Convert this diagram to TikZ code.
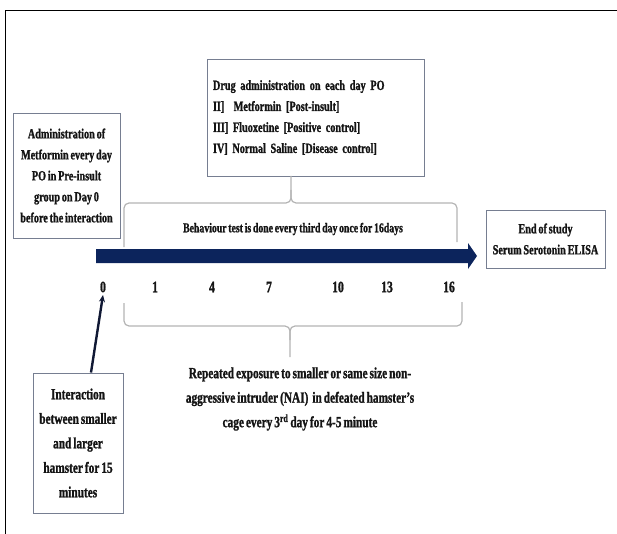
\documentclass[tikz,border=0pt]{standalone}
\usepackage{fontspec}
\newfontfamily\cf[FakeStretch=0.73, WordSpace=0.7, BoldFeatures={FakeBold=1.2}]{Liberation Serif}
\usetikzlibrary{arrows.meta}
\definecolor{navy}{RGB}{12,36,92}
\definecolor{pointer}{RGB}{16,24,52}
\definecolor{boxline}{RGB}{118,126,145}
\definecolor{bracecol}{RGB}{180,180,180}
\definecolor{txt}{RGB}{20,20,20}
\begin{document}
\begin{tikzpicture}[x=1pt,y=-1pt,
  box/.style={draw=boxline, line width=0.9pt, inner sep=0pt, text=txt},
  ftxt/.style={font=\cf\bfseries\fontsize{14}{21}\selectfont},
  fbig/.style={font=\cf\bfseries\fontsize{15.5}{24.5}\selectfont},
  fnum/.style={font=\cf\bfseries\fontsize{16}{18}\selectfont, text=txt, inner sep=0pt},
  bracestyle/.style={draw=bracecol, line width=1.2pt, rounded corners=5pt}]
\useasboundingbox (0,0) rectangle (617,534);
% outer frame (partly cropped)
\draw[line width=1.8pt] (5.5,540) -- (5.5,10.5) -- (625,10.5);

% boxes
\node[box, ftxt, align=center, minimum width=107, minimum height=125] (pre) at (66.5,175.5)
  {Administration of\\Metformin every day\\PO in Pre-insult\\group on Day 0\\before the interaction};
\node[box, ftxt, align=left, text width=205, inner xsep=6pt, minimum height=117] (drug) at (315.5,117.5)
  {Drug administration on each day PO\\II]\ \ Metformin [Post-insult]\\III] Fluoxetine [Positive control]\\IV] Normal Saline [Disease control]};
\node[box, ftxt, align=center, minimum width=119, minimum height=58] (end) at (545.5,239)
  {End of study\\Serum Serotonin ELISA};
\node[box, fbig, align=center, minimum width=90, minimum height=140] (inter) at (78,443)
  {Interaction\\between smaller\\and larger\\hamster for 15\\minutes};

% timeline arrow
\coordinate (tl0) at (96,256);
\coordinate (tl1) at (477,256);
\fill[navy] (96,249) -- (468,249) -- (468,243) -- (tl1) -- (468,269) -- (468,263) -- (96,263) -- cycle;

% day numbers
\node[fnum] (n0) at (103,287) {0};
\node[fnum] (n1) at (155,287) {1};
\node[fnum] (n4) at (212,287) {4};
\node[fnum] (n7) at (269,287) {7};
\node[fnum] (n10) at (338,287) {10};
\node[fnum] (n13) at (387,287) {13};
\node[fnum] (n16) at (449,287) {16};

% behaviour text
\node[text=txt, font=\cf\bfseries\fontsize{13.4}{16}\selectfont] (beh) at (293,229)
  {Behaviour test is done every third day once for 16days};

% upper brace
\coordinate (ubtip) at (291,176);
\draw[bracestyle] (124,247) -- (124,203) -- (291,203) -- (ubtip);
\draw[bracestyle] (457,242) -- (457,203) -- (291,203) -- (291,190);

% lower brace
\coordinate (lbtip) at (290,357);
\draw[bracestyle] (124,303) -- (124,326) -- (290,326) -- (lbtip);
\draw[bracestyle] (462,302) -- (462,326) -- (290,326) -- (290,340);

% lower text
\node[fbig, text=txt, align=center] (rep) at (300,399)
  {Repeated exposure to smaller or same size non-\\aggressive intruder (NAI)\ \ in defeated hamster’s\\cage every 3\textsuperscript{rd} day for 4-5 minute};

% pointer
\coordinate (ptip) at (103,295);
\draw[pointer, line width=2.4pt, -{Stealth[length=7pt,width=6pt]}] ([xshift=13pt]inter.north) -- (ptip);
\end{tikzpicture}
\end{document}
